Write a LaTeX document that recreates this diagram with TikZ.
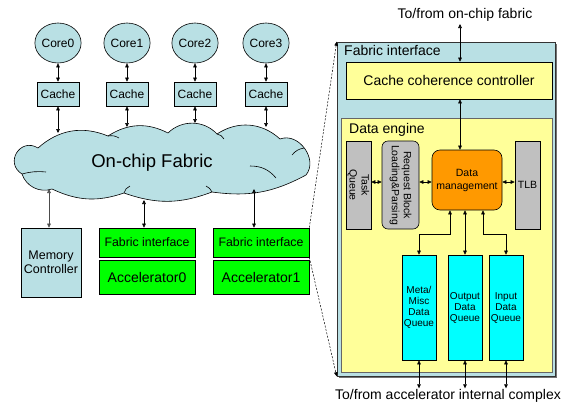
\documentclass[tikz,border=0pt]{standalone}
\usepackage{fontspec}
\setmainfont{Liberation Sans}
\usetikzlibrary{shapes.geometric,arrows.meta,calc}
\definecolor{paleblue}{RGB}{185,224,228}
\definecolor{chipgreen}{RGB}{0,255,0}
\definecolor{paleyellow}{RGB}{255,255,153}
\definecolor{dmorange}{RGB}{255,153,0}
\definecolor{qcyan}{RGB}{0,255,255}
\definecolor{unitgray}{RGB}{192,192,192}
\begin{document}
\begin{tikzpicture}[x=1pt,y=-1pt,
  box/.style={draw=black, line width=0.6pt, inner sep=0pt, align=center},
  fs/.style={font=\fontsize{#1}{1.15\dimexpr #1pt\relax}\selectfont},
  core/.style={box, ellipse, fill=paleblue, minimum width=46, minimum height=40, fs=12},
  cachebox/.style={box, fill=paleblue, minimum width=42, minimum height=24, fs=12},
  greenbox/.style={box, fill=chipgreen, minimum width=96},
  unit/.style={box, fill=unitgray, minimum width=88, fs=10.5},
  queue/.style={box, fill=qcyan, minimum width=34, minimum height=105, font=\fontsize{10}{11}\selectfont},
  biarrow/.style={line width=0.55pt, {Triangle[length=4pt,width=3.6pt]}-{Triangle[length=4pt,width=3.6pt]}},
  zoomline/.style={line width=0.5pt, dash pattern=on 2pt off 1.5pt, -{Triangle[length=4pt,width=3.6pt]}}
]
\useasboundingbox (0,0) rectangle (568,405);

% ---------- cores and caches ----------
\foreach \i/\x in {0/58,1/127,2/195,3/266}{
  \node[core] (core\i) at (\x,43) {Core\i};
  \node[cachebox] (cache\i) at (\x,94) {Cache};
  \draw[biarrow] (core\i) -- (cache\i);
}

% ---------- on-chip fabric cloud ----------
\coordinate (j0) at (22,174);  \coordinate (j1) at (38,148);
\coordinate (j2) at (108,136); \coordinate (j3) at (168,133);
\coordinate (j4) at (217,134); \coordinate (j5) at (280,139);
\coordinate (j6) at (306,175); \coordinate (j7) at (212,192);
\coordinate (j8) at (124,193); \coordinate (j9) at (52,189);
\draw[fill=paleblue, line width=0.6pt]
  (j0) to[bend left=90, looseness=1.75] (j1)
       to[bend left=32] (j2)
       to[bend left=30] (j3)
       to[bend left=46] (j4)
       to[bend left=38] (j5)
       to[bend left=75, looseness=1.15] (j6)
       to[bend left=18] (j7)
       to[bend left=20] (j8)
       to[bend left=22] (j9)
       to[bend left=45] (j0) -- cycle;
% inner folds of the cloud
\draw[line width=0.6pt] (j0) to[bend left=10] (46,172);
\draw[line width=0.6pt] (j2) to[bend left=20] (119,138);
\draw[line width=0.6pt] (j4) to[bend left=25] (224,139);
\draw[line width=0.6pt] (304,148) to[bend right=20] (292,155);
\draw[line width=0.6pt] (250,166) to[bend left=25] (276,178);
\draw[line width=0.6pt] (j8) to[bend left=25] (130,186);
\draw[line width=0.6pt] (j7) to[bend right=20] (206,186);
\node[fs=18.5] (fabric) at (152,163) {On-chip Fabric};

% attachment points on the cloud outline
\coordinate (ft0) at (58,133);  \coordinate (ft1) at (127,127);
\coordinate (ft2) at (195,123); \coordinate (ft3) at (266,127);
\coordinate (fb0) at (49,189);  \coordinate (fb1) at (144,200);
\coordinate (fb2) at (254,189);
\foreach \i in {0,...,3}{ \draw[biarrow] (cache\i) -- (ft\i); }

% ---------- memory controller and accelerators ----------
\node[box, fill=paleblue, minimum width=60, minimum height=69, fs=12.5] (mc) at (51,262.5) {Memory\\Controller};
\node[greenbox, minimum height=29, fs=12.3] (fia) at (147,242.5) {Fabric interface};
\node[greenbox, minimum height=34, fs=14] (acc0) at (147,277) {Accelerator0};
\node[greenbox, minimum height=29, fs=12.3] (fib) at (261,242.5) {Fabric interface};
\node[greenbox, minimum height=34, fs=14] (acc1) at (261,277) {Accelerator1};
\draw[biarrow, draw=black!70] (fb0) -- (fb0 |- mc.north);
\draw[biarrow] (fb1) -- (fb1 |- fia.north);
\draw[biarrow] (fb2) -- (fb2 |- fib.north);

% ---------- expanded fabric interface ----------
\fill[black!55] (338.5,43.5) rectangle (556.5,377.5);
\node[box, draw=black!80, fill=paleblue, minimum width=218, minimum height=334] (fi) at (446,209) {};
\node[anchor=west, fs=14, inner sep=0pt] (filabel) at (344,50) {Fabric interface};
\node[box, fill=paleyellow, minimum width=206, minimum height=37, fs=14] (ccc) at (449,80.5) {Cache coherence controller};
\node[box, draw=black!60, fill=paleyellow, minimum width=211, minimum height=254] (de) at (446.5,245) {};
\node[anchor=west, fs=14, inner sep=0pt] (delabel) at (349,130) {Data engine};

\draw[zoomline] (fib.north east) -- (fi.north west);
\draw[zoomline] (fib.south east) -- (fi.south west);

% ---------- data engine units ----------
% rotated by -90: the node's north side faces right, its south side faces left
\node[unit, rotate=-90, minimum height=25] (tq) at (358.5,185) {Task\\Queue};
\node[unit, rotate=-90, minimum height=37, rounded corners=6pt] (rb) at (400.5,185) {Request Block\\Loading\&Parsing};
\node[box, fill=dmorange, rounded corners=8pt, minimum width=70, minimum height=60, font=\fontsize{10.5}{13}\selectfont] (dm) at (467,180) {Data\\management};
\node[box, fill=unitgray, minimum width=25, minimum height=88, fs=10.5] (tlb) at (527.5,185) {TLB};

\coordinate (hy) at (0,182);
\draw[biarrow] (tq.north |- hy) -- (rb.south |- hy);
\draw[biarrow] (rb.north |- hy) -- (dm.west |- hy);
\draw[biarrow] (dm.east |- hy) -- (tlb.west |- hy);

\node[queue] (metaq) at (419,307.5) {Meta/\\Misc\\Data\\Queue};
\node[queue] (outq) at (465,307.5) {Output\\Data\\Queue};
\node[queue] (inq) at (506,307.5) {Input\\Data\\Queue};

\coordinate (mk) at (450,234);
\coordinate (ik) at (483,234);
\draw[biarrow] (metaq.north) |- (mk) -- (mk |- dm.south);
\draw[biarrow] (outq.north) -- (outq.north |- dm.south);
\draw[biarrow] (inq.north) |- (ik) -- (ik |- dm.south);

% ---------- external links ----------
\node[fs=14] (toplabel) at (465,15) {To/from on-chip fabric};
\node[fs=14] (botlabel) at (448,396) {To/from accelerator internal complex};
\coordinate (topend) at (460,24);
\draw[biarrow] (topend) -- (topend |- ccc.north);
\draw[biarrow] (topend |- ccc.south) -- (topend |- dm.north);
\foreach \q in {metaq,outq,inq}{
  \draw[biarrow] (\q.south) -- ++(0,28);
}
\end{tikzpicture}
\end{document}
